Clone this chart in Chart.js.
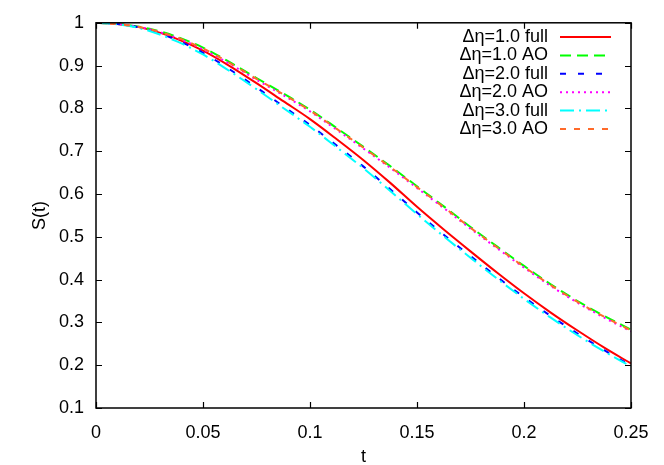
<!DOCTYPE html>
<html>
<head>
<meta charset="utf-8">
<script src="https://cdn.jsdelivr.net/npm/chart.js@4.4.0/dist/chart.umd.min.js"></script>
<style>
  html, body { margin: 0; padding: 0; background: #fff; }
  #wrap { width: 664px; height: 465px; }
</style>
</head>
<body>
<div id="wrap"><canvas id="chart"></canvas></div>
<script>
// t grid (every 0.0125)
const tValues = [0, 0.0125, 0.025, 0.0375, 0.05, 0.0625, 0.075, 0.0875, 0.1, 0.1125, 0.125,
                 0.1375, 0.15, 0.1625, 0.175, 0.1875, 0.2, 0.2125, 0.225, 0.2375, 0.25];

const full10 = [1.000, 0.996, 0.984, 0.963, 0.935, 0.899, 0.859, 0.817, 0.775, 0.728, 0.679,
                0.626, 0.570, 0.517, 0.466, 0.416, 0.368, 0.323, 0.281, 0.241, 0.204];
const ao10   = [1.000, 0.996, 0.986, 0.968, 0.942, 0.908, 0.871, 0.835, 0.797, 0.754, 0.710,
                0.665, 0.618, 0.571, 0.523, 0.477, 0.432, 0.389, 0.350, 0.315, 0.283];
const full20 = [1.000, 0.996, 0.983, 0.960, 0.930, 0.891, 0.849, 0.805, 0.761, 0.713, 0.664,
                0.611, 0.557, 0.505, 0.455, 0.406, 0.359, 0.315, 0.274, 0.235, 0.199];
const ao20   = [1.000, 0.996, 0.985, 0.965, 0.938, 0.904, 0.867, 0.831, 0.793, 0.750, 0.706,
                0.661, 0.614, 0.567, 0.519, 0.473, 0.428, 0.385, 0.346, 0.311, 0.279];
const full30 = [1.000, 0.995, 0.981, 0.957, 0.926, 0.887, 0.845, 0.801, 0.757, 0.709, 0.660,
                0.607, 0.553, 0.501, 0.451, 0.402, 0.355, 0.311, 0.270, 0.232, 0.197];
const ao30   = [1.000, 0.996, 0.985, 0.966, 0.940, 0.906, 0.869, 0.833, 0.795, 0.752, 0.708,
                0.663, 0.616, 0.569, 0.521, 0.475, 0.430, 0.387, 0.348, 0.313, 0.281];

const seriesLabels = ['Δη=1.0 full', 'Δη=1.0 AO', 'Δη=2.0 full', 'Δη=2.0 AO', 'Δη=3.0 full', 'Δη=3.0 AO'];
const seriesData = [full10, ao10, full20, ao20, full30, ao30];
const seriesColors = ['#ff0000', '#00ff00', '#0000ff', '#ff00ff', '#00ffff', '#ff6a2a'];
const seriesDashes = [[], [11, 6], [6, 12], [2, 4], [14, 5, 2, 5], [6, 8]];

const xTicks = [0, 0.05, 0.1, 0.15, 0.2, 0.25];
const yTicks = [0.1, 0.2, 0.3, 0.4, 0.5, 0.6, 0.7, 0.8, 0.9, 1];

const FONT = { family: 'Liberation Sans, Arial, sans-serif', size: 18 };
const fmt = v => String(+Number(v).toFixed(3));

// gnuplot-like frame with inward ticks on all four sides
const framePlugin = {
    id: 'frame',
    afterDatasetsDraw(chart) {
        const { ctx, chartArea: a, scales: { x, y } } = chart;
        ctx.save();
        ctx.strokeStyle = '#000';
        ctx.lineWidth = 1.5;
        ctx.strokeRect(a.left, a.top, a.right - a.left, a.bottom - a.top);
        ctx.lineWidth = 1.2;
        ctx.beginPath();
        xTicks.forEach(v => {
            const px = Math.round(x.getPixelForValue(v)) + 0.5;
            ctx.moveTo(px, a.bottom); ctx.lineTo(px, a.bottom - 6);
            ctx.moveTo(px, a.top); ctx.lineTo(px, a.top + 6);
        });
        yTicks.forEach(v => {
            const py = Math.round(y.getPixelForValue(v)) + 0.5;
            ctx.moveTo(a.left, py); ctx.lineTo(a.left + 6, py);
            ctx.moveTo(a.right, py); ctx.lineTo(a.right - 6, py);
        });
        ctx.stroke();
        ctx.restore();
    }
};

// key in the top right corner: text right aligned, line sample on the right
const keyPlugin = {
    id: 'key',
    afterDraw(chart) {
        const ctx = chart.ctx;
        ctx.save();
        ctx.font = FONT.size + 'px ' + FONT.family;
        ctx.textAlign = 'right';
        ctx.textBaseline = 'middle';
        chart.data.datasets.forEach((ds, i) => {
            const yy = 37 + i * 18.4;
            ctx.fillStyle = '#000';
            ctx.fillText(ds.label, 548, yy);
            ctx.strokeStyle = ds.borderColor;
            ctx.lineWidth = 2;
            ctx.setLineDash(ds.borderDash);
            ctx.beginPath();
            ctx.moveTo(560, yy);
            ctx.lineTo(611, yy);
            ctx.stroke();
        });
        ctx.restore();
    }
};

const datasets = seriesData.map((vals, i) => ({
    label: seriesLabels[i],
    data: vals.map((v, k) => ({ x: tValues[k], y: v })),
    borderColor: seriesColors[i],
    borderDash: seriesDashes[i],
    borderWidth: 2,
    pointRadius: 0,
    fill: false,
    cubicInterpolationMode: 'monotone',
    order: seriesData.length - i
}));

new Chart(document.getElementById('chart'), {
    type: 'line',
    data: { datasets: datasets },
    options: {
        responsive: true,
        maintainAspectRatio: false,
        animation: false,
        layout: { padding: { left: 0, top: 21, right: 33, bottom: 0 } },
        plugins: { legend: { display: false }, tooltip: { enabled: false } },
        scales: {
            x: {
                type: 'linear',
                min: 0, max: 0.25,
                afterBuildTicks: s => { s.ticks = xTicks.map(v => ({ value: v })); },
                afterFit: s => { s.height = 57; },
                ticks: { font: FONT, color: '#000', padding: 14, maxRotation: 0, callback: fmt },
                grid: { display: true, drawOnChartArea: false, drawTicks: false },
                border: { display: false },
                title: { display: true, text: 't', font: FONT, color: '#000', padding: { top: 0, bottom: -3 } }
            },
            y: {
                type: 'linear',
                min: 0.1, max: 1,
                afterBuildTicks: s => { s.ticks = yTicks.map(v => ({ value: v })); },
                afterFit: s => { s.width = 96; },
                ticks: { font: FONT, color: '#000', padding: 12, callback: fmt },
                grid: { display: true, drawOnChartArea: false, drawTicks: false },
                border: { display: false },
                title: { display: true, text: 'S(t)', font: FONT, color: '#000', padding: { top: 29, bottom: 0 } }
            }
        }
    },
    plugins: [framePlugin, keyPlugin]
});
</script>
</body>
</html>
